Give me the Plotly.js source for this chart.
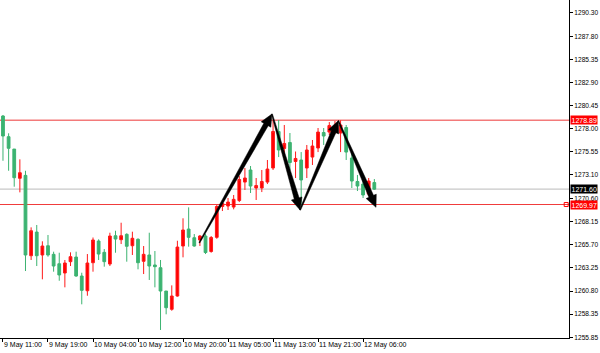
<!DOCTYPE html>
<html><head><meta charset="utf-8">
<script src="https://cdn.plot.ly/plotly-3.0.1.min.js"></script>
<style>html,body{margin:0;padding:0;background:#fff}#chart{width:600px;height:353px}</style>
</head><body><div id="chart"></div>
<script>
// Hourly OHLC (bar index 0 = 9 May 11:00)
const openP  = [1279.35,1277.16,1275.85,1272.75,1273.06,1264.54,1267.05,1264.62,1265.60,1264.69,1263.69,1262.71,1263.91,1264.40,1262.39,1260.83,1263.80,1266.10,1264.90,1263.66,1266.66,1266.24,1266.81,1265.60,1266.28,1263.95,1264.62,1263.56,1263.27,1260.80,1258.86,1260.27,1265.57,1267.37,1266.45,1266.21,1266.63,1264.99,1266.49,1269.76,1269.81,1269.70,1270.39,1272.35,1273.63,1271.72,1271.72,1272.35,1273.84,1277.71,1275.91,1276.54,1274.53,1274.69,1273.84,1275.00,1275.96,1277.60,1277.65,1277.76,1277.55,1278.13,1274.90,1272.41,1272.14,1271.08,1272.30];
const highP  = [1279.46,1277.52,1275.85,1274.76,1273.55,1267.55,1267.80,1266.07,1266.74,1264.97,1264.86,1264.09,1264.90,1264.97,1262.74,1264.72,1266.47,1266.28,1265.25,1266.98,1267.19,1268.04,1266.92,1267.09,1266.39,1265.57,1266.98,1265.04,1264.09,1260.80,1261.40,1266.13,1268.51,1269.67,1266.84,1266.74,1266.84,1266.63,1269.92,1270.45,1270.66,1270.98,1272.99,1273.84,1274.05,1272.78,1273.63,1274.69,1278.93,1278.93,1278.40,1277.55,1275.59,1275.53,1276.28,1276.81,1278.08,1278.08,1278.71,1278.82,1278.89,1278.40,1275.43,1273.10,1272.57,1272.78,1272.67];
const lowP   = [1274.61,1273.55,1271.86,1271.26,1262.92,1264.09,1263.45,1262.04,1264.44,1262.85,1261.89,1261.19,1263.45,1262.32,1259.39,1260.30,1262.85,1264.09,1263.38,1263.45,1264.86,1265.78,1263.91,1264.62,1263.10,1262.60,1261.97,1261.19,1256.67,1258.33,1258.71,1260.20,1264.37,1265.50,1265.50,1265.57,1264.72,1264.86,1266.34,1269.28,1269.39,1269.46,1270.23,1271.51,1271.19,1270.45,1271.29,1272.14,1273.63,1275.00,1274.90,1273.63,1272.78,1269.70,1272.78,1274.16,1275.53,1276.28,1277.34,1277.44,1275.53,1274.69,1271.72,1271.40,1270.66,1270.87,1271.51];
const closeP = [1277.23,1275.93,1272.81,1273.34,1264.62,1267.19,1264.54,1265.57,1264.62,1263.45,1262.50,1263.77,1264.44,1262.39,1260.87,1263.77,1266.21,1264.72,1263.91,1266.63,1266.31,1266.66,1265.54,1266.39,1263.80,1264.69,1263.45,1263.38,1260.80,1259.03,1260.27,1265.46,1267.27,1266.49,1265.57,1266.63,1264.88,1266.47,1269.76,1270.07,1270.23,1270.52,1272.62,1272.78,1271.93,1271.98,1272.41,1273.73,1277.71,1275.75,1276.44,1274.42,1274.85,1272.57,1275.75,1276.17,1277.65,1277.23,1278.34,1278.29,1278.40,1275.53,1272.46,1271.93,1270.98,1272.46,1271.60];

const tickIdx    = [0,8,16,24,32,40,48,56,64];
const tickLabels = ['9 May 11:00','9 May 19:00','10 May 04:00','10 May 12:00','10 May 20:00','11 May 05:00','11 May 13:00','11 May 21:00','12 May 06:00'];
const yTickVals  = [1255.85,1258.35,1260.80,1263.25,1265.70,1268.15,1270.60,1273.10,1275.55,1278.00,1280.45,1282.90,1285.35,1287.80,1290.30];

const resistanceLevel = 1278.89;
const supportLevel    = 1269.97;
const bidLevel        = 1271.60;

// double-top pattern pivot points (bar index, price)
const arrowX = [34.9, 47.8, 52.8, 59.6, 66.3];
const arrowY = [1265.92, 1279.56, 1269.39, 1278.85, 1269.67];

const xRange = [-0.53, 100.6];
const yRange = [1255.82, 1291.65];
const W = 600, H = 353, M = {l:0, r:31, t:0, b:15};
const plotW = W - M.l - M.r, plotH = H - M.t - M.b;
const sx = plotW / (xRange[1]-xRange[0]);
const sy = plotH / (yRange[1]-yRange[0]);

const idx = openP.map((_, i) => i);
const FONT = 'Liberation Sans, Arial, sans-serif';

const traces = [{
  type: 'candlestick', x: idx, open: openP, high: highP, low: lowP, close: closeP,
  increasing: {line: {color: '#ff1a1a', width: 1}, fillcolor: '#ff0000'},
  decreasing: {line: {color: '#3cb371', width: 1}, fillcolor: '#3cb371'},
  whiskerwidth: 0, hoverinfo: 'skip', showlegend: false
}];

// tapered arrows
function arrowPoly(x0, y0, x1, y1) {
  const X0 = x0*sx, Y0 = y0*sy, X1 = x1*sx, Y1 = y1*sy;
  const dx = X1-X0, dy = Y1-Y0, L = Math.hypot(dx, dy);
  const ux = dx/L, uy = dy/L, nx = -uy, ny = ux;
  const tailW = 1.0, neckW = 5, headW = 11, headL = 12;
  const Nx = X1 - ux*headL, Ny = Y1 - uy*headL;
  const pts = [
    [X0 + nx*tailW/2, Y0 + ny*tailW/2],
    [Nx + nx*neckW/2, Ny + ny*neckW/2],
    [Nx + nx*headW/2, Ny + ny*headW/2],
    [X1, Y1],
    [Nx - nx*headW/2, Ny - ny*headW/2],
    [Nx - nx*neckW/2, Ny - ny*neckW/2],
    [X0 - nx*tailW/2, Y0 - ny*tailW/2],
    [X0 + nx*tailW/2, Y0 + ny*tailW/2]
  ];
  return {x: pts.map(p => p[0]/sx), y: pts.map(p => p[1]/sy)};
}
for (let i = 0; i < arrowX.length-1; i++) {
  const p = arrowPoly(arrowX[i], arrowY[i], arrowX[i+1], arrowY[i+1]);
  traces.push({type:'scatter', mode:'lines', x:p.x, y:p.y, fill:'toself',
    fillcolor:'#000', line:{color:'#000', width:0.5}, hoverinfo:'skip', showlegend:false});
}
// small marker at end of support line
traces.push({type:'scatter', mode:'markers', x:[100.1], y:[supportLevel],
  marker:{symbol:'square-open', size:4, color:'#ff0000', line:{width:1}},
  cliponaxis:false, hoverinfo:'skip', showlegend:false});

const shapes = [
  {type:'line', xref:'paper', x0:0, x1:1, yref:'y', y0:bidLevel, y1:bidLevel, line:{color:'#c8c8c8', width:1.2}, layer:'below'},
  {type:'line', xref:'paper', x0:0, x1:1, yref:'y', y0:resistanceLevel, y1:resistanceLevel, line:{color:'#f37a7a', width:1.5}, layer:'below'},
  {type:'line', xref:'paper', x0:0, x1:1, yref:'y', y0:supportLevel, y1:supportLevel, line:{color:'#f03c3c', width:1.2}, layer:'below'}
];

function priceTag(v, bg) {
  return {xref:'paper', x:1, xanchor:'left', yref:'y', y:v, yanchor:'middle',
    text: v.toFixed(2), showarrow:false, bgcolor:bg, borderpad:0.5, xshift:1,
    font:{family:FONT, size:7, color:'#fff'}};
}

const layout = {
  width: W, height: H, margin: M,
  paper_bgcolor: '#fff', plot_bgcolor: '#fff', showlegend: false,
  xaxis: {range: xRange, rangeslider:{visible:false}, showgrid:false, zeroline:false,
    showline:true, linecolor:'#000', linewidth:1, ticks:'outside', ticklen:3, tickcolor:'#000',
    tickvals: tickIdx, ticktext: tickLabels, ticklabelposition:'outside right', tickangle:0,
    tickfont:{family:FONT, size:7, color:'#000'}, fixedrange:true},
  yaxis: {range: yRange, side:'right', showgrid:false, zeroline:false,
    showline:true, linecolor:'#000', linewidth:1, ticks:'outside', ticklen:3, tickcolor:'#000',
    tickvals: yTickVals, ticktext: yTickVals.map(v => v.toFixed(2)),
    tickfont:{family:FONT, size:6.6, color:'#000'}, fixedrange:true},
  shapes: shapes,
  annotations: [priceTag(resistanceLevel, '#ff0000'), priceTag(bidLevel, '#000000'), priceTag(supportLevel, '#ff0000')]
};

Plotly.newPlot('chart', traces, layout, {staticPlot:true, displayModeBar:false});
</script></body></html>
